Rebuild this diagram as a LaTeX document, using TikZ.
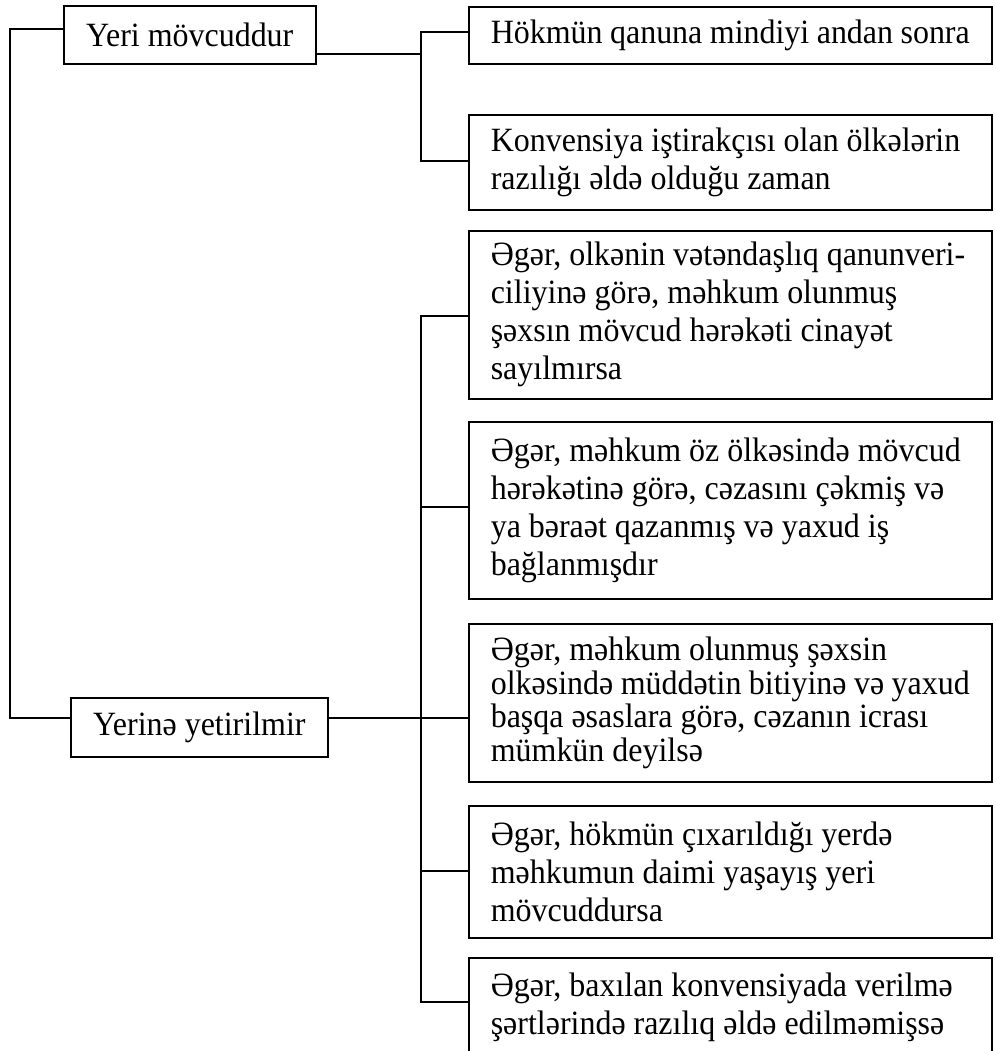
\documentclass[tikz,border=0pt]{standalone}
\usepackage{fontspec}
\setmainfont[FakeStretch=0.94]{Liberation Serif}

\tikzset{
    every node/.style={font=\fontsize{17}{19}\selectfont},
    headbox/.style={draw, line width=0.8pt, anchor=north west, inner sep=0pt, align=center},
    casebox/.style={draw, line width=0.8pt, anchor=north west, inner xsep=11pt, inner ysep=0pt,
        text width=239.5pt, align=flush left},
    branch/.style={line width=0.65pt}
}

\begin{document}
\begin{tikzpicture}[x=0.5pt, y=-0.5pt]
    \useasboundingbox (0,0) rectangle (996,1051);

    % Two main cases on the left
    \node[headbox, minimum width=126pt, minimum height=29pt] (yes) at (63,5) {Yeri mövcuddur};
    \node[headbox, minimum width=128.5pt, minimum height=29.5pt] (no) at (70,697) {Yerinə yetirilmir};

    % Boxes on the right
    \node[casebox, minimum height=28.5pt] (h1) at (468,6) {Hökmün qanuna mindiyi andan sonra};
    \node[casebox, minimum height=47.5pt] (h2) at (468,114) {Konvensiya iştirakçısı olan ölkələrin\\razılığı əldə olduğu zaman};
    \node[casebox, minimum height=84pt] (b1) at (468,230) {Əgər, olkənin vətəndaşlıq qanunveri-\\ciliyinə görə, məhkum olunmuş\\şəxsın mövcud hərəkəti cinayət\\sayılmırsa};
    \node[casebox, minimum height=88.5pt] (b2) at (468,421) {Əgər, məhkum öz ölkəsində mövcud\\hərəkətinə görə, cəzasını çəkmiş və\\ya bəraət qazanmış və yaxud iş\\bağlanmışdır};
    \node[casebox, minimum height=79pt, font=\fontsize{17}{16.75}\selectfont] (b3) at (468,623) {Əgər, məhkum olunmuş şəxsin\\olkəsində müddətin bitiyinə və yaxud\\başqa əsaslara görə, cəzanın icrası\\mümkün deyilsə};
    \node[casebox, minimum height=66pt] (b4) at (468,805) {Əgər, hökmün çıxarıldığı yerdə\\məhkumun daimi yaşayış yeri\\mövcuddursa};
    \node[casebox, minimum height=50pt] (b5) at (468,957) {Əgər, baxılan konvensiyada verilmə\\şərtlərində razılıq əldə edilməmişsə};

    % Left trunk
    \coordinate (la) at (10,29);
    \coordinate (lb) at (10,718);
    \draw[branch] (la -| yes.west) -- (la) -- (lb) -- (lb -| no.west);

    % Upper right trunk
    \coordinate (ua) at (421,32);
    \coordinate (ub) at (421,161);
    \coordinate (um) at (421,54);
    \draw[branch] (um -| yes.east) -- (um);
    \draw[branch] (ua -| h1.west) -- (ua) -- (ub) -- (ub -| h2.west);

    % Lower right trunk
    \coordinate (da) at (421,316);
    \coordinate (de) at (421,1002);
    \draw[branch] (da -| b1.west) -- (da) -- (de) -- (de -| b5.west);
    \draw[branch] (lb -| no.east) -- (lb -| b3.west);
    \foreach \casename/\y in {b2/507, b4/871} {
        \draw[branch] (421,\y) -- (\casename.west |- 0,\y);
    }

\end{tikzpicture}
\end{document}
